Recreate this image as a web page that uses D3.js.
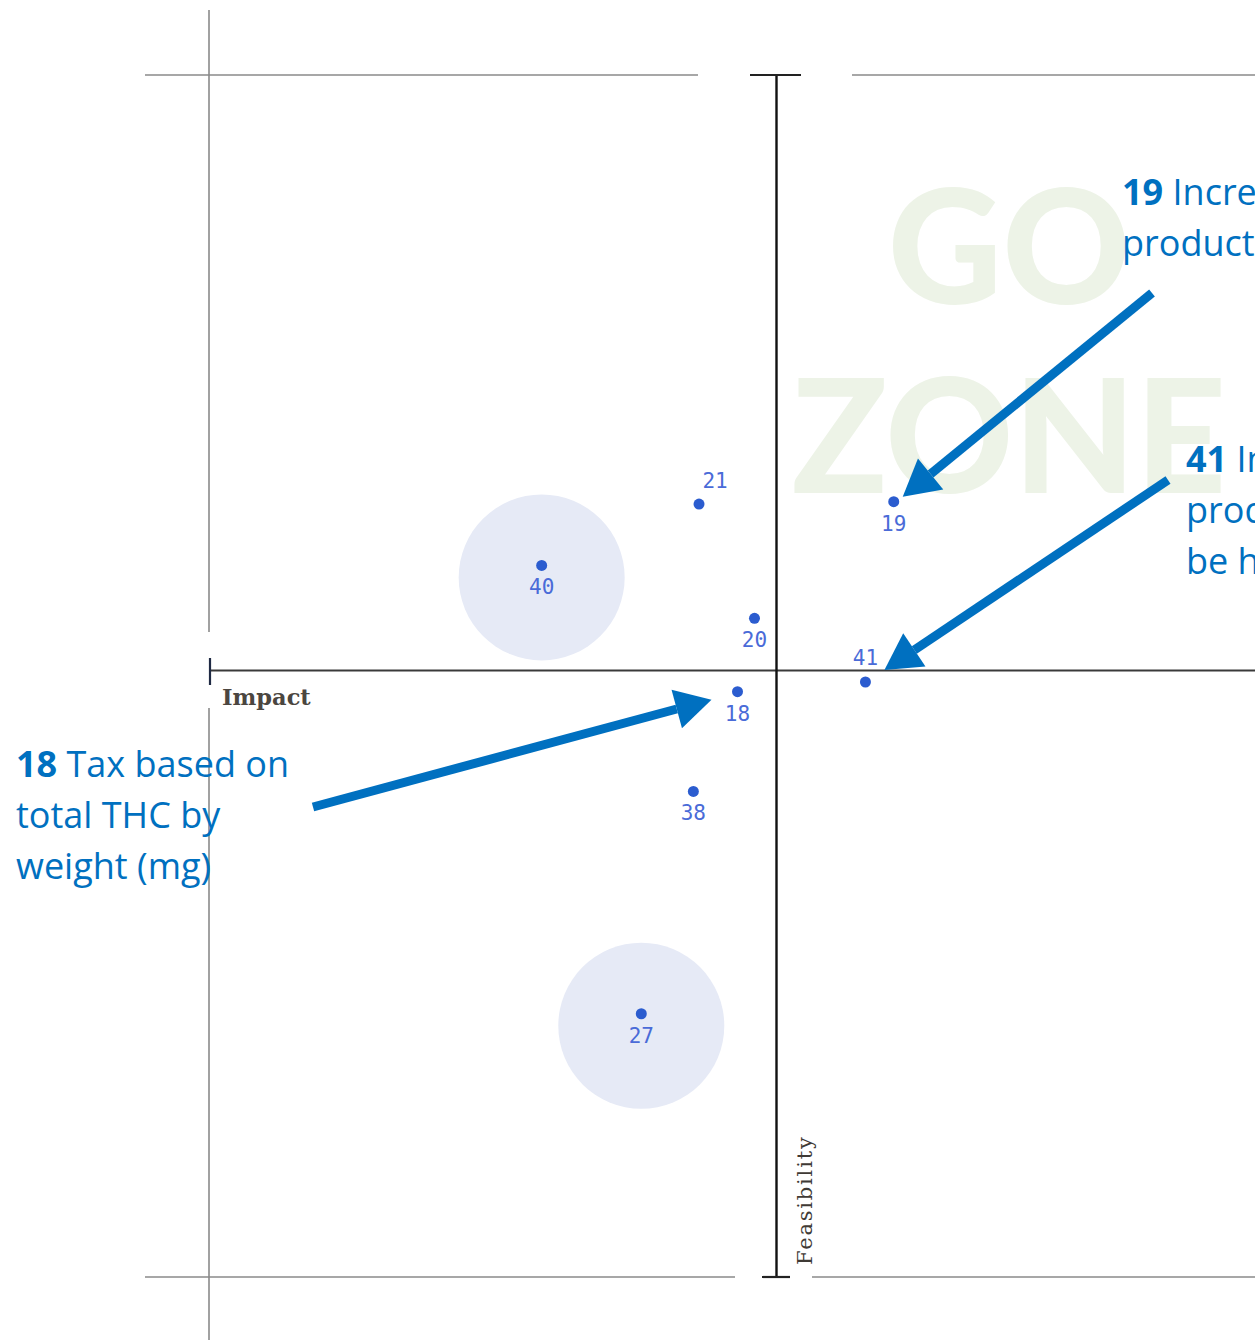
<!DOCTYPE html>
<html>
<head>
<meta charset="utf-8">
<script src="https://cdn.jsdelivr.net/npm/d3@7"></script>
<style>
  html, body { margin: 0; padding: 0; background: #fff; }
  svg { display: block; }
</style>
</head>
<body>
<svg id="chart" width="1255" height="1340"></svg>
<script>
// Policy ideas rated on impact (x) and feasibility (y), centred on the mean.
const ideaIds     = ["21", "19", "40", "20", "41", "18", "38", "27"];
const impact      = [-0.68, 1.04, -2.07, -0.19, 0.79, -0.34, -0.73, -1.19];
const feasibility = [1.38, 1.40, 0.87, 0.43, -0.10, -0.18, -1.01, -2.86];
const highlighted = ["40", "27"];

// Call-out notes for selected ideas
const noteIds   = ["18", "19", "41"];
const noteLines = [
  ["Tax based on", "total THC by", "weight (mg)"],
  ["Increase tax on high-potency", "products"],
  ["Intoxicating hemp", "products should", "be held to same tax"]
];

const axisLabels = { x: "Impact", y: "Feasibility" };
const watermark  = ["GO", "ZONE"];

// ---- layout ----
const W = 1255, H = 1340;
const blue = "#0070c0";
const svg = d3.select("#chart");

const x = d3.scaleLinear().domain([-5, 5]).range([210, 1342]);
const y = d3.scaleLinear().domain([-5.05, 4.95]).range([1277, 75]);

const points = ideaIds.map((id, i) => ({ id, ix: impact[i], fy: feasibility[i] }));
const byId = Object.fromEntries(points.map(p => [p.id, p]));

// label placement per idea (above/below the dot, small nudges)
const labelPlace = { "21": { dx: 16, dy: -16 }, "41": { dx: 0, dy: -17 } };

// watermark
const wm = svg.append("g").attr("fill", "#edf3e7")
  .attr("font-family", "Lato").attr("font-weight", 900).attr("font-size", 158)
  .attr("text-anchor", "middle");
wm.append("text").attr("x", 1009).attr("y", 304).text(watermark[0]);
wm.append("text").attr("x", 1009).attr("y", 493).text(watermark[1]);

// frame lines (grey)
const frame = svg.append("g").attr("stroke", "#8a8a8a").attr("stroke-width", 1.6);
const x0 = x.range()[0] - 1, yT = y.range()[1], yB = y.range()[0], xc = x(0), yc = y(0);
[[145, yT, 698, yT], [852, yT, W, yT], [145, yB, 735, yB], [812, yB, W, yB],
 [x0, 10, x0, yc - 38], [x0, yc + 38, x0, H]]
  .forEach(s => frame.append("line").attr("x1", s[0]).attr("y1", s[1]).attr("x2", s[2]).attr("y2", s[3]));

// highlight discs
svg.append("g").selectAll("circle")
  .data(points.filter(p => highlighted.includes(p.id)))
  .join("circle")
  .attr("cx", d => x(d.ix)).attr("cy", d => y(d.fy) + 12).attr("r", 83)
  .attr("fill", "#e6eaf6");

// axes
const xAxis = svg.append("g").attr("transform", `translate(0,${yc})`)
  .call(d3.axisBottom(x).tickValues([]).tickSizeOuter(0));
xAxis.select(".domain").attr("stroke", "#3a3a3a").attr("stroke-width", 2);
svg.append("line").attr("x1", x(-5)).attr("x2", x(-5)).attr("y1", yc - 12).attr("y2", yc + 15)
  .attr("stroke", "#1f2a44").attr("stroke-width", 2.2);

const yAxis = svg.append("g").attr("transform", `translate(${xc},0)`)
  .call(d3.axisLeft(y).tickValues([]).tickSizeOuter(0));
yAxis.select(".domain").attr("stroke", "#111").attr("stroke-width", 2.4);
svg.append("line").attr("x1", xc - 26).attr("x2", xc + 25).attr("y1", yT).attr("y2", yT)
  .attr("stroke", "#222").attr("stroke-width", 2.2);
svg.append("line").attr("x1", xc - 14).attr("x2", xc + 14).attr("y1", yB).attr("y2", yB)
  .attr("stroke", "#222").attr("stroke-width", 2.2);

// axis titles
svg.append("text").attr("x", x(-5) + 12).attr("y", yc + 35)
  .attr("font-family", "DejaVu Serif").attr("font-weight", "bold").attr("font-size", 22.5)
  .attr("fill", "#4b4640").text(axisLabels.x);
svg.append("text")
  .attr("transform", `translate(${xc + 36},${yB - 12}) rotate(-90)`)
  .attr("font-family", "DejaVu Serif").attr("font-size", 21).attr("letter-spacing", 1.8)
  .attr("fill", "#3f3a35").text(axisLabels.y);

// points and id labels
const pts = svg.append("g");
pts.selectAll("circle").data(points).join("circle")
  .attr("cx", d => x(d.ix)).attr("cy", d => y(d.fy)).attr("r", 5.5)
  .attr("fill", "#2b5ccf");
pts.selectAll("text").data(points).join("text")
  .attr("x", d => x(d.ix) + (labelPlace[d.id] ? labelPlace[d.id].dx : 0))
  .attr("y", d => y(d.fy) + (labelPlace[d.id] ? labelPlace[d.id].dy : 29))
  .attr("text-anchor", "middle")
  .attr("font-family", "DejaVu Sans Mono").attr("font-size", 21)
  .attr("fill", "#4a6bd8").text(d => d.id);

// call-outs: text block, arrow tail and the arrow tip offset from the dot
const noteLayout = {
  "18": { tx: 16, ty: 777, tail: [313, 807], tip: [-26, 8] },
  "19": { tx: 1122, ty: 205, tail: [1152, 293], tip: [9, -5] },
  "41": { tx: 1186, ty: 472, tail: [1168, 480], tip: [19, -12] }
};
const notes = svg.append("g").attr("font-family", "Open Sans").attr("font-size", 36).attr("fill", blue);
noteIds.forEach((id, i) => {
  const L = noteLayout[id];
  const t = notes.append("text").attr("x", L.tx).attr("y", L.ty);
  noteLines[i].forEach((line, j) => {
    const ts = t.append("tspan").attr("x", L.tx).attr("dy", j === 0 ? 0 : 51);
    if (j === 0) {
      ts.append("tspan").attr("font-weight", "bold").text(id + " ");
      ts.append("tspan").text(line);
    } else ts.text(line);
  });

  const p = byId[id];
  const tip = [x(p.ix) + L.tip[0], y(p.fy) + L.tip[1]];
  const tail = L.tail;
  const ang = Math.atan2(tip[1] - tail[1], tip[0] - tail[0]);
  const headLen = 36, headHalf = 20, shaft = 9;
  const base = [tip[0] - headLen * Math.cos(ang), tip[1] - headLen * Math.sin(ang)];
  const nx = -Math.sin(ang), ny = Math.cos(ang);
  svg.append("line").attr("x1", tail[0]).attr("y1", tail[1])
    .attr("x2", base[0]).attr("y2", base[1])
    .attr("stroke", blue).attr("stroke-width", shaft);
  svg.append("path")
    .attr("d", d3.line()([
      tip,
      [base[0] + nx * headHalf, base[1] + ny * headHalf],
      [base[0] - nx * headHalf, base[1] - ny * headHalf]
    ]) + "Z")
    .attr("fill", blue);
});
</script>
</body>
</html>
